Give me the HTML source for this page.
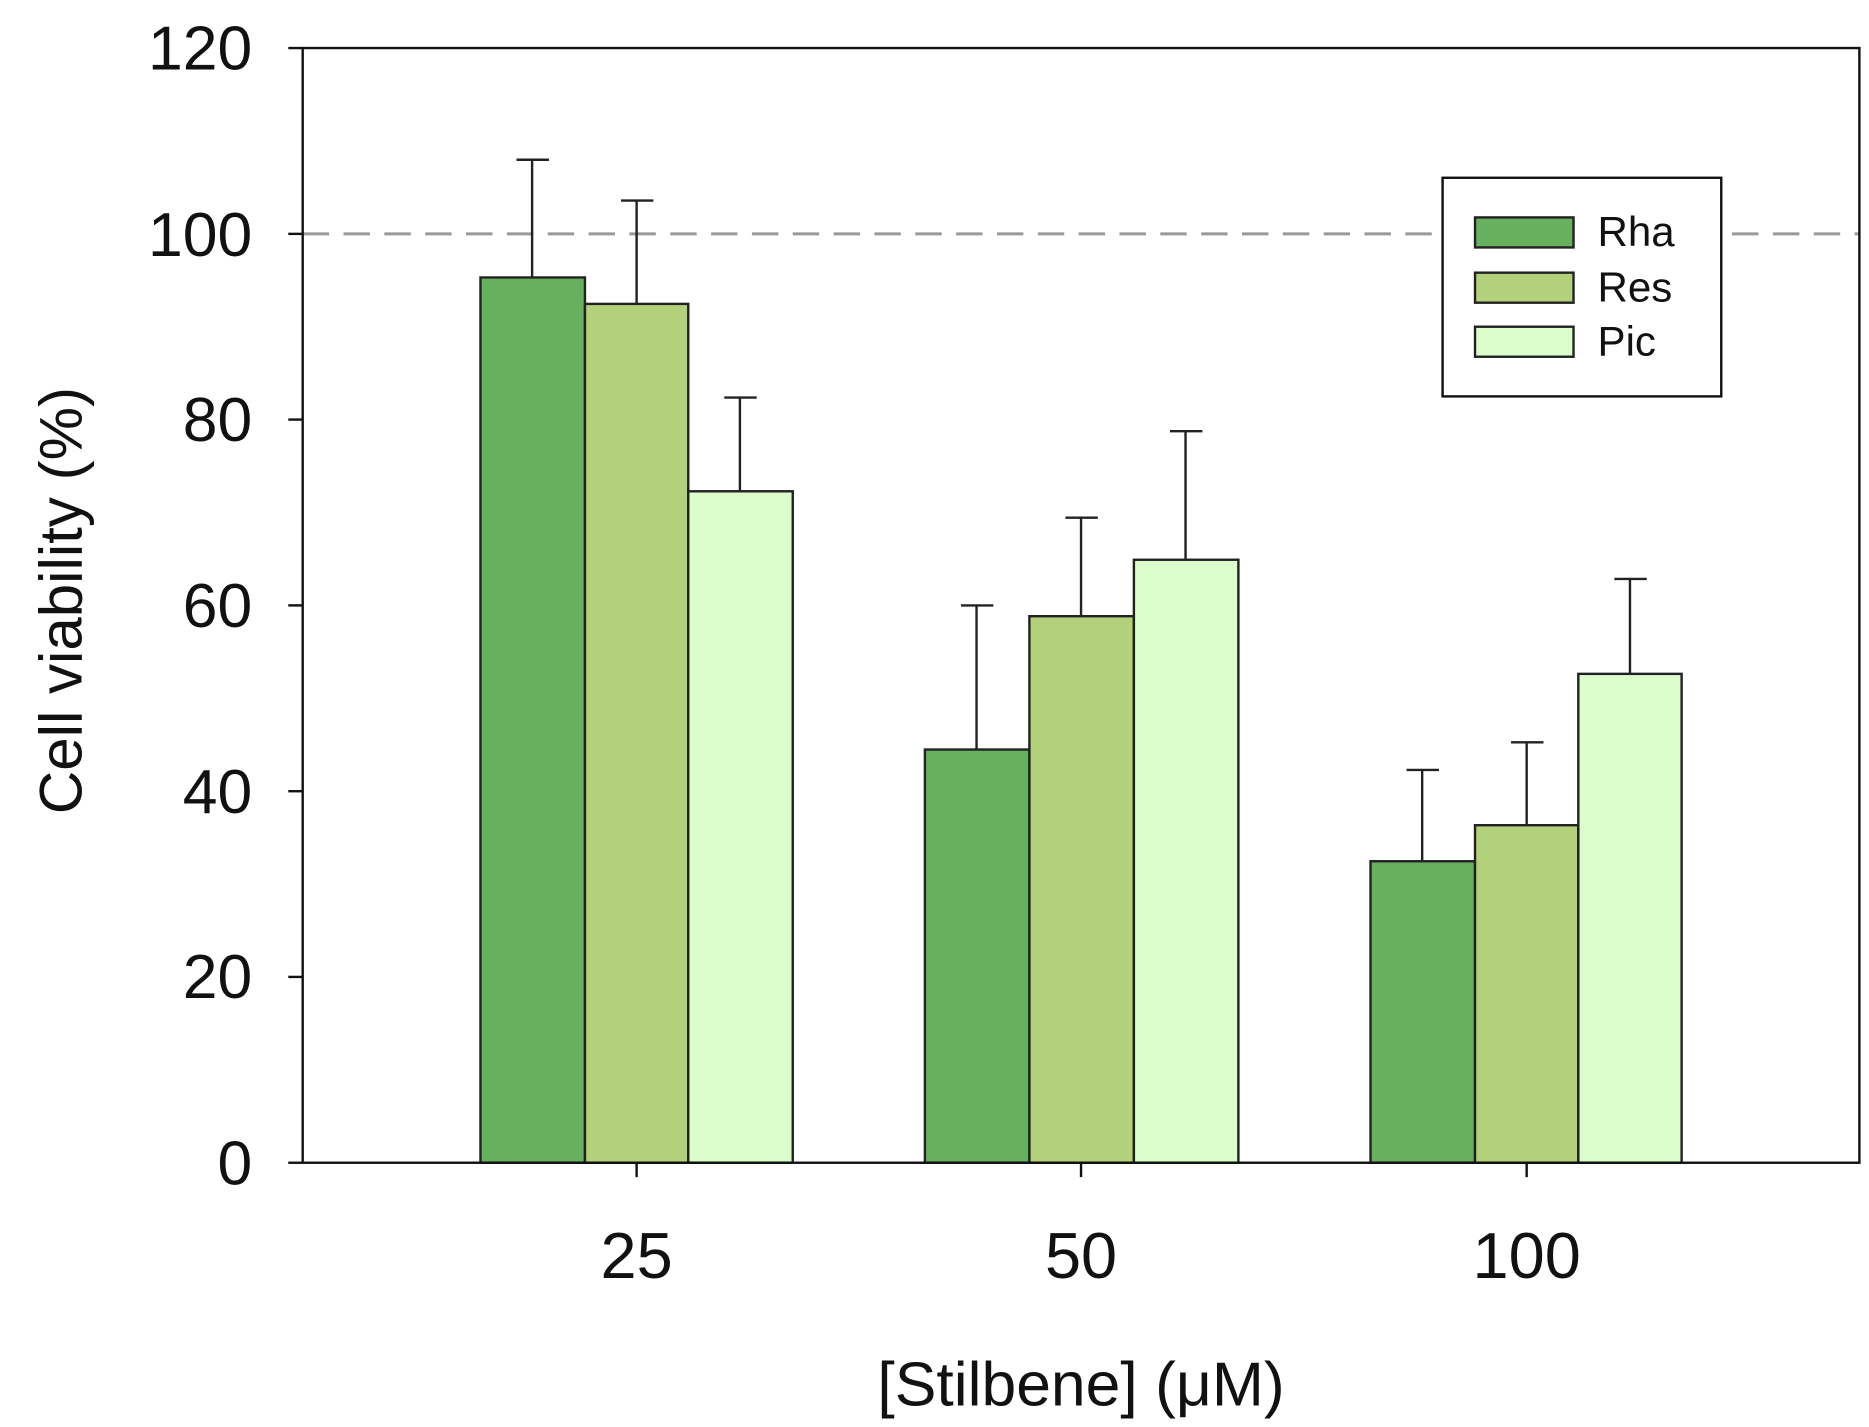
<!DOCTYPE html>
<html><head><style>html,body{margin:0;padding:0;background:#fff}svg{display:block}</style></head><body>
<svg width="1869" height="1427" viewBox="0 0 1556 1188" preserveAspectRatio="none" xmlns="http://www.w3.org/2000/svg" font-family="Liberation Sans, Arial, sans-serif">
<rect width="1556" height="1188" fill="#fff"/>
<line x1="252" y1="194.7" x2="1548" y2="194.7" stroke="#999" stroke-width="2.5" stroke-dasharray="22,12"/>
<g stroke="#222" stroke-width="2">
<rect x="400" y="231" width="87" height="737" fill="#66b05e"/>
<rect x="487" y="253" width="86" height="715" fill="#b3d17a"/>
<rect x="573" y="409" width="87" height="559" fill="#dbfccb"/>
<rect x="770" y="624" width="87" height="344" fill="#66b05e"/>
<rect x="857" y="513" width="87" height="455" fill="#b3d17a"/>
<rect x="944" y="466" width="87" height="502" fill="#dbfccb"/>
<rect x="1141" y="717" width="87" height="251" fill="#66b05e"/>
<rect x="1228" y="687" width="86" height="281" fill="#b3d17a"/>
<rect x="1314" y="561" width="86" height="407" fill="#dbfccb"/>
<path d="M443 231V133M430 133H457M530 253V167M517 167H544M616 409V331M603 331H630M813 624V504M800 504H827M900 513V431M887 431H914M987 466V359M974 359H1001M1184 717V641M1171 641H1198M1271 687V618M1258 618H1285M1357 561V482M1344 482H1371" fill="none"/>
</g>
<rect x="252" y="40" width="1296" height="928" fill="none" stroke="#111" stroke-width="2"/>
<g stroke="#111" stroke-width="2">
<line x1="240" y1="968" x2="252" y2="968"/><line x1="240" y1="813.3" x2="252" y2="813.3"/><line x1="240" y1="658.7" x2="252" y2="658.7"/><line x1="240" y1="504" x2="252" y2="504"/><line x1="240" y1="349.3" x2="252" y2="349.3"/><line x1="240" y1="194.7" x2="252" y2="194.7"/><line x1="240" y1="40" x2="252" y2="40"/>
<line x1="530" y1="968" x2="530" y2="980"/><line x1="900" y1="968" x2="900" y2="980"/><line x1="1271" y1="968" x2="1271" y2="980"/>
</g>
<g font-size="52" fill="#111" text-anchor="end">
<text x="210" y="986">0</text><text x="210" y="831">20</text><text x="210" y="677">40</text><text x="210" y="522">60</text><text x="210" y="367">80</text><text x="210" y="213">100</text><text x="210" y="58">120</text>
</g>
<g font-size="54" fill="#111" text-anchor="middle">
<text x="530" y="1064">25</text><text x="900" y="1064">50</text><text x="1271" y="1064">100</text>
<text x="900" y="1170" font-size="52">[Stilbene] (μM)</text>
<text transform="translate(68,500) rotate(-90)" font-size="50">Cell viability (%)</text>
</g>
<rect x="1201" y="148" width="232" height="182" fill="#fff" stroke="#111" stroke-width="2"/>
<g stroke="#222" stroke-width="2">
<rect x="1228" y="181" width="82" height="25" fill="#66b05e"/>
<rect x="1228" y="227" width="82" height="25" fill="#b3d17a"/>
<rect x="1228" y="272" width="82" height="25" fill="#dbfccb"/>
</g>
<g font-size="35" fill="#111">
<text x="1330" y="205">Rha</text><text x="1330" y="251">Res</text><text x="1330" y="296">Pic</text>
</g>
</svg>
</body></html>
